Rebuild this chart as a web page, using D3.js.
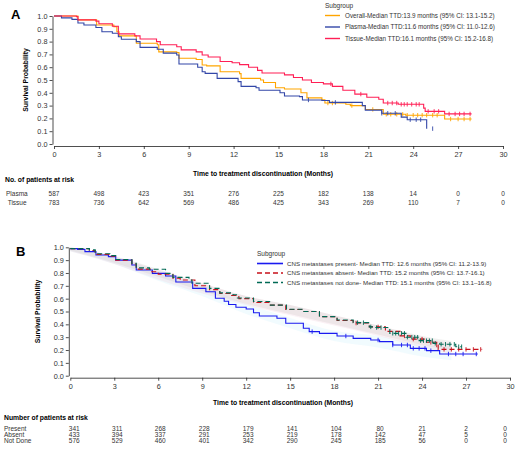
<!DOCTYPE html>
<html><head><meta charset="utf-8">
<script src="https://cdn.jsdelivr.net/npm/d3@7"></script>
<style>body{margin:0;background:#fff}svg{display:block}text{font-family:Arial,"Liberation Sans",sans-serif}</style>
</head><body><svg id="c" width="517" height="456"></svg>
<script>
// ---------- DATA ----------
const xTicks = [0,3,6,9,12,15,18,21,24,27,30];
const yTicks = [0,0.1,0.2,0.3,0.4,0.5,0.6,0.7,0.8,0.9,1.0];

// Panel A
const aNames = ["Overall","Plasma","Tissue"];
const aLegend = ["Overall-Median TTD:13.9 months (95% CI: 13.1-15.2)",
                 "Plasma-Median TTD:11.6 months (95% CI: 11.0-12.6)",
                 "Tissue-Median TTD:16.1 months (95% CI: 15.2-16.8)"];
const aOverall = [[0,1.0],[1.6,0.97],[2.85,0.93],[4.0,0.917],[4.2,0.877],[4.35,0.845],[5.5,0.787],[6.9,0.775],[7.0,0.72],[8.2,0.715],[8.35,0.67],[9.5,0.66],[9.9,0.617],[10.2,0.61],[11.1,0.565],[12.4,0.55],[12.5,0.513],[13.8,0.50],[14.0,0.48],[14.8,0.44],[15.4,0.43],[16.5,0.40],[16.9,0.36],[17.9,0.345],[18.1,0.32],[19.5,0.31],[19.8,0.30],[20.8,0.27],[22.0,0.232],[23.5,0.225],[26.1,0.195],[27.9,0.195]];
const aPlasma = [[0,1.0],[0.5,0.985],[1.2,0.974],[1.6,0.945],[2.0,0.93],[2.8,0.91],[3.2,0.877],[3.9,0.865],[4.3,0.838],[4.5,0.818],[5.5,0.80],[5.75,0.755],[6.9,0.74],[7.3,0.71],[8.2,0.695],[8.35,0.625],[9.6,0.60],[9.9,0.565],[10.1,0.552],[10.9,0.513],[12.3,0.487],[12.5,0.45],[13.5,0.44],[13.7,0.42],[15.1,0.40],[15.4,0.375],[16.4,0.37],[16.6,0.344],[17.9,0.34],[18.4,0.325],[20.6,0.30],[20.8,0.265],[21.9,0.24],[23.2,0.21],[23.6,0.19],[24.9,0.19],[24.9,0.12]];
const aTissue = [[0,1.0],[1.5,0.995],[1.6,0.97],[2.8,0.96],[3.0,0.94],[3.9,0.92],[4.3,0.86],[5.4,0.845],[5.75,0.82],[6.85,0.80],[7.1,0.775],[8.2,0.76],[8.5,0.735],[9.5,0.72],[9.9,0.695],[10.3,0.68],[11.1,0.645],[11.9,0.635],[12.4,0.62],[13.0,0.60],[13.6,0.575],[13.9,0.555],[15.4,0.54],[16.0,0.52],[16.6,0.50],[17.2,0.48],[18.0,0.47],[18.6,0.45],[19.3,0.42],[20.1,0.39],[20.9,0.365],[21.7,0.35],[22.0,0.32],[23.0,0.31],[24.7,0.28],[24.8,0.255],[26.1,0.235],[27.9,0.235]];
const aOverallCens = [18.3,18.6,19.9,21.3,22.2,22.5,22.9,23.3,23.6,24.0,24.3,24.6,24.9,25.3,25.6,26.5,27.0,27.4,27.8];
const aPlasmaCens = [17.0,18.8,21.9,22.3,22.8,23.8,24.2,24.5,25.3];
const aTissueCens = [18.5,20.5,22.3,22.6,22.9,23.2,23.4,23.6,23.9,24.2,24.4,25.0,25.4,25.7,26.4,26.8,27.1,27.4,27.8];
const aRiskRows = ["Plasma"," Tissue"];
const aRiskPlasma = [587,498,423,351,276,225,182,138,14,0,0];
const aRiskTissue = [783,736,642,569,486,425,343,269,110,7,0];

// Panel B
const bLegend = ["CNS metastases present- Median TTD: 12.6 months (95% CI: 11.2-13.9)",
                 "CNS metastases absent- Median TTD: 15.2 months (95% CI: 13.7-16.1)",
                 "CNS metastases not done- Median TTD: 15.1 months (95% CI: 13.1\u201316.8)"];
const bPresent = [[0,0.99],[0.5,0.984],[1.0,0.966],[1.75,0.94],[2.6,0.927],[3.1,0.90],[4.2,0.862],[4.5,0.823],[5.6,0.797],[6.5,0.776],[7.2,0.73],[8.35,0.68],[9.25,0.654],[9.9,0.603],[10.5,0.58],[10.8,0.555],[11.3,0.533],[12.0,0.52],[12.5,0.49],[12.9,0.465],[14.1,0.447],[14.7,0.408],[15.9,0.37],[16.3,0.343],[17.0,0.33],[18.2,0.309],[19.3,0.291],[20.5,0.278],[21.1,0.265],[22.0,0.239],[23.2,0.213],[24.3,0.195],[25.2,0.169],[27.8,0.169]];
const bAbsent = [[0,0.99],[1.3,0.975],[1.7,0.945],[2.7,0.93],[3.1,0.90],[4.2,0.87],[4.5,0.83],[5.5,0.81],[6.0,0.79],[7.0,0.76],[7.5,0.745],[8.5,0.70],[9.5,0.67],[10.2,0.64],[11.0,0.625],[11.5,0.60],[12.5,0.57],[13.6,0.55],[14.7,0.515],[15.9,0.50],[17.0,0.46],[18.2,0.43],[19.3,0.41],[20.4,0.38],[21.5,0.345],[22.5,0.31],[23.2,0.285],[24.3,0.26],[25.0,0.239],[25.1,0.205],[28.1,0.205]];
const bNotDone = [[0,0.99],[1.3,0.98],[1.7,0.95],[2.7,0.935],[3.1,0.905],[4.2,0.875],[4.5,0.84],[5.4,0.829],[6.5,0.797],[7.0,0.766],[8.1,0.745],[8.3,0.72],[9.5,0.68],[10.2,0.645],[11.1,0.63],[11.4,0.605],[12.5,0.578],[13.6,0.55],[14.75,0.517],[15.9,0.50],[17.0,0.46],[18.2,0.434],[19.3,0.413],[20.4,0.38],[20.7,0.375],[21.8,0.33],[22.9,0.30],[23.8,0.273],[24.75,0.252],[25.2,0.245],[26.3,0.226],[26.7,0.226]];
const bPresentCI = [[0,0.97,1.0],[3,0.87,0.93],[6,0.74,0.81],[9,0.62,0.70],[12,0.48,0.56],[15,0.37,0.45],[18,0.27,0.35],[21,0.22,0.31],[24,0.15,0.24],[26,0.12,0.22]];
const bAbsentCI = [[0,0.97,1.0],[3,0.87,0.93],[6,0.75,0.82],[9,0.64,0.72],[12,0.55,0.62],[15,0.47,0.55],[18,0.39,0.47],[21,0.31,0.39],[24,0.22,0.30],[26,0.17,0.25]];
const bNotDoneCI = [[0,0.975,1.0],[3,0.88,0.93],[6,0.77,0.83],[9,0.66,0.72],[12,0.56,0.62],[15,0.48,0.55],[18,0.40,0.47],[21,0.32,0.39],[24,0.24,0.31],[26,0.20,0.27]];
const bPresentCens = [16.5,18.8,21.0,22.0,22.6,23.0,23.4,23.8,24.2,24.6,25.8,26.3,26.8,27.7];
const bAbsentCens = [19.5,21.0,22.8,23.4,24.0,24.6,25.0,25.5,26.0,26.5,27.0,27.5,28.0];
const bNotDoneCens = [19.6,20.0,20.5,20.9,21.2,22.0,22.2,22.4,22.6,22.8,23.0,23.3,23.5,23.7,23.9,24.1,24.3,24.5,24.7,24.9,25.3,25.6,25.9,26.2,26.5,26.7];
const bRiskRows = ["Present","Absent","Not Done"];
const bRiskPresent = [341,311,268,228,179,141,104,80,21,2,0];
const bRiskAbsent = [433,394,337,291,253,219,178,142,47,5,0];
const bRiskNotDone = [576,529,460,401,342,290,245,185,56,0,0];

// ---------- DRAW ----------
const svg = d3.select("#c");
svg.append("rect").attr("width",517).attr("height",456).attr("fill","#fff");

function survAt(s, t){ let v = s[0][1]; for (const p of s){ if (p[0] <= t) v = p[1]; } return v; }

function panel(cfg){
  const x = d3.scaleLinear().domain([0,30]).range([cfg.x0, cfg.x1]);
  const y = d3.scaleLinear().domain([0,1]).range([cfg.y0, cfg.y1]);
  const g = svg.append("g");
  const ya = g.append("g").attr("transform",`translate(${cfg.x0-1.5},0)`)
    .call(d3.axisLeft(y).tickValues(yTicks).tickFormat(d3.format(".1f")).tickSize(3).tickSizeOuter(0));
  const xa = g.append("g").attr("transform",`translate(0,${cfg.y0+2})`)
    .call(d3.axisBottom(x).tickValues(xTicks).tickFormat(d3.format("d")).tickSize(3).tickSizeOuter(0));
  [ya,xa].forEach(a=>{
    a.selectAll("path,line").attr("stroke","#222").attr("stroke-width",0.8);
    a.selectAll("text").attr("font-size",7.3).attr("fill","#333").style("font-family","Arial");
  });
  ya.selectAll("text").attr("x",-5);
  xa.selectAll("text").attr("y",6);
  g.append("text").attr("x",cfg.panelLabelX).attr("y",cfg.panelLabelY).text(cfg.label)
    .attr("font-size",13).attr("font-weight","bold");
  g.append("text").attr("transform",`translate(${cfg.yLabX},${(cfg.y0+cfg.y1)/2}) rotate(-90)`)
    .attr("text-anchor","middle").attr("font-size",6.8).attr("font-weight","bold").text("Survival Probability");
  g.append("text").attr("x",cfg.xTitleX).attr("y",cfg.xTitleY).attr("text-anchor","middle")
    .attr("font-size",6.8).attr("font-weight","bold").text("Time to treatment discontinuation (Months)");
  (cfg.bands||[]).forEach(b=>{
    g.append("path").datum(b.data)
      .attr("d", d3.area().x(d=>x(d[0])).y0(d=>y(d[1])).y1(d=>y(d[2])).curve(d3.curveMonotoneX))
      .attr("fill", b.color).attr("stroke","none");
  });
  cfg.series.forEach(s=>{
    g.append("path").datum(s.data)
      .attr("d", d3.line().x(d=>x(d[0])).y(d=>y(d[1])).curve(d3.curveStepAfter))
      .attr("fill","none").attr("stroke",s.color).attr("stroke-width",s.w||1.1)
      .attr("stroke-dasharray",s.dash||null);
    g.append("g").selectAll("line").data(s.cens).join("line")
      .attr("x1",t=>x(t)).attr("x2",t=>x(t))
      .attr("y1",t=>y(survAt(s.data,t))-2.2).attr("y2",t=>y(survAt(s.data,t))+2.2)
      .attr("stroke",s.color).attr("stroke-width",0.9);
  });
  g.append("text").attr("x",cfg.legX).attr("y",cfg.legTitleY).attr("font-size",6.5).attr("fill","#333").text("Subgroup");
  cfg.series.forEach((s,i)=>{
    const ly = cfg.legY0 + i*cfg.legDy;
    g.append("line").attr("x1",cfg.legLineX0).attr("x2",cfg.legLineX1).attr("y1",ly).attr("y2",ly)
      .attr("stroke",s.color).attr("stroke-width",s.legW||1.4).attr("stroke-dasharray",s.dash||null);
    g.append("text").attr("x",cfg.legTextX).attr("y",ly+2.2).attr("font-size",cfg.legFont).attr("fill","#333")
      .attr("textLength",cfg.legLen).attr("lengthAdjust","spacing").text(cfg.legend[i]);
  });
  g.append("text").attr("x",cfg.riskTitleX).attr("y",cfg.riskTitleY).attr("font-size",6.8).attr("font-weight","bold").text(cfg.riskTitle);
  cfg.risk.forEach((r,i)=>{
    const ry = cfg.riskY0 + i*cfg.riskDy;
    g.append("text").attr("x",cfg.riskLabX).attr("y",ry).attr("font-size",6.5).attr("fill","#333").style("white-space","pre").text(r.name);
    g.append("g").selectAll("text").data(r.vals).join("text")
      .attr("x",(d,j)=>x(xTicks[j]) + (cfg.riskShift ? cfg.riskShift[j] : 0)).attr("y",ry)
      .attr("text-anchor","middle").attr("font-size",6.5).attr("fill","#333").text(d=>d);
  });
}

panel({
  x0:54, x1:503, y0:144, y1:16, label:"A", panelLabelX:11, panelLabelY:19, yLabX:28,
  xTitleX:263, xTitleY:176,
  series:[
    {data:aOverall, cens:aOverallCens, color:"#FFA500"},
    {data:aPlasma, cens:aPlasmaCens, color:"#3347A8"},
    {data:aTissue, cens:aTissueCens, color:"#FF1F55"}
  ],
  legend:aLegend, legX:325, legTitleY:8, legY0:15.5, legDy:11.5, legLineX0:325, legLineX1:340, legTextX:345, legFont:6.3, legLen:null,
  riskTitle:"No. of patients at risk", riskTitleX:5, riskTitleY:182,
  risk:[{name:aRiskRows[0],vals:aRiskPlasma},{name:aRiskRows[1],vals:aRiskTissue}],
  riskLabX:6, riskY0:195.5, riskDy:9.5
});

panel({
  x0:70.3, x1:510, y0:375.7, y1:247.3, label:"B", panelLabelX:16, panelLabelY:256, yLabX:40,
  xTitleX:283, xTitleY:405,
  bands:[
    {data:bPresentCI, color:"rgba(200,240,252,0.25)"},
    {data:bAbsentCI, color:"rgba(240,200,215,0.25)"},
    {data:bNotDoneCI, color:"rgba(190,190,185,0.22)"}
  ],
  series:[
    {data:bPresent, cens:bPresentCens, color:"#1A1AF0", legW:1.6},
    {data:bAbsent, cens:bAbsentCens, color:"#C8101A", dash:"5,3", legW:1.4},
    {data:bNotDone, cens:bNotDoneCens, color:"#006A55", dash:"5,3", legW:1.4}
  ],
  legend:bLegend, legX:257, legTitleY:256, legY0:263.5, legDy:9.5, legLineX0:257, legLineX1:283, legTextX:287, legFont:6.2, legLen:null,
  riskTitle:"Number of patients at risk", riskTitleX:4, riskTitleY:420,
  risk:[{name:bRiskRows[0],vals:bRiskPresent},{name:bRiskRows[1],vals:bRiskAbsent},{name:bRiskRows[2],vals:bRiskNotDone}],
  riskShift:[4,3,2,2,2,2,2,2,0,0,-5],
  riskLabX:4, riskY0:430.5, riskDy:6.2
});
</script></body></html>
